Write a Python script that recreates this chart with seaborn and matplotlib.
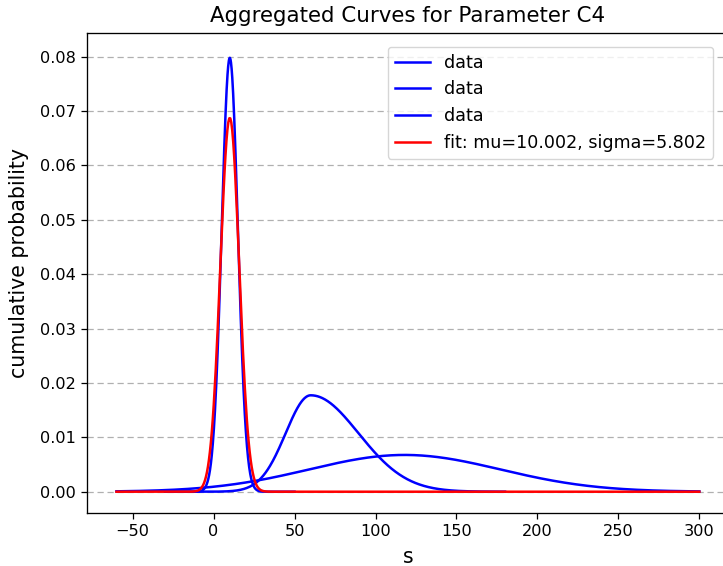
import numpy as np
import pandas as pd
import matplotlib
matplotlib.use("Agg")
import matplotlib.pyplot as plt
import seaborn as sns

# Density curves: mode, left/right spread and sampled range of each "data" curve
curve_labels = ["data", "data", "data"]
curve_modes = [10.0, 60.0, 118.0]
curve_sigma_left = [5.0, 15.5, 59.0]
curve_sigma_right = [5.0, 29.5, 59.0]
curve_start = [-30.0, -30.0, -60.0]
curve_end = [50.0, 180.0, 300.0]

# Normal fit to the aggregated data
fit_mu = 10.002
fit_sigma = 5.802
fit_start = -60.0
fit_end = 300.0

n_points = 600


def two_piece_normal(x, mode, s_left, s_right):
    amp = np.sqrt(2.0 / np.pi) / (s_left + s_right)
    s = np.where(x < mode, s_left, s_right)
    return amp * np.exp(-0.5 * ((x - mode) / s) ** 2)


def normal_pdf(x, mu, sigma):
    return np.exp(-0.5 * ((x - mu) / sigma) ** 2) / (sigma * np.sqrt(2.0 * np.pi))


plt.rcParams["font.family"] = ["DejaVu Sans"]
plt.rcParams["font.size"] = 11.6

fig = plt.figure(figsize=(7.23, 5.66), dpi=100)
ax = fig.add_axes([87.3 / 723, (566 - 512.7) / 566, (728.5 - 87.3) / 723, (512.7 - 33.3) / 566])

for label, m, sl, sr, a, b in zip(curve_labels, curve_modes, curve_sigma_left,
                                  curve_sigma_right, curve_start, curve_end):
    xs = np.linspace(a, b, n_points)
    df = pd.DataFrame({"s": xs, "p": two_piece_normal(xs, m, sl, sr)})
    sns.lineplot(data=df, x="s", y="p", color="blue", linewidth=1.8,
                 label=label, ax=ax, sort=False)

xf = np.linspace(fit_start, fit_end, n_points)
fit_df = pd.DataFrame({"s": xf, "p": normal_pdf(xf, fit_mu, fit_sigma)})
sns.lineplot(data=fit_df, x="s", y="p", color="red", linewidth=1.8,
             label=f"fit: mu={fit_mu:.3f}, sigma={fit_sigma:.3f}", ax=ax, sort=False)

ax.set_xlim(-78, 318)
ax.set_ylim(-0.00386, 0.0843)
ax.set_xticks([-50, 0, 50, 100, 150, 200, 250, 300])
ax.set_yticks([0.0, 0.01, 0.02, 0.03, 0.04, 0.05, 0.06, 0.07, 0.08])
ax.yaxis.set_major_formatter(matplotlib.ticker.FormatStrFormatter("%.2f"))
ax.tick_params(labelsize=11.6, length=4.5, width=0.9)
for sp in ax.spines.values():
    sp.set_linewidth(0.95)

ax.grid(axis="y", linestyle=(0, (5, 3)), color="#b0b0b0", linewidth=0.9)
ax.grid(axis="x", visible=False)
ax.set_axisbelow(True)

ax.set_title("Aggregated Curves for Parameter C4", fontsize=15.4, pad=8)
ax.set_xlabel("s", fontsize=14.8, labelpad=6)
ax.set_ylabel("cumulative probability", fontsize=14.8)
ax.yaxis.set_label_coords(-0.0915, 0.52)

ax.legend(loc="upper right", bbox_to_anchor=(713 / 723, 1 - 46.7 / 566),
          bbox_transform=fig.transFigure, borderaxespad=0, fontsize=12.6,
          framealpha=0.8)

fig.savefig("out.png", dpi=100)
